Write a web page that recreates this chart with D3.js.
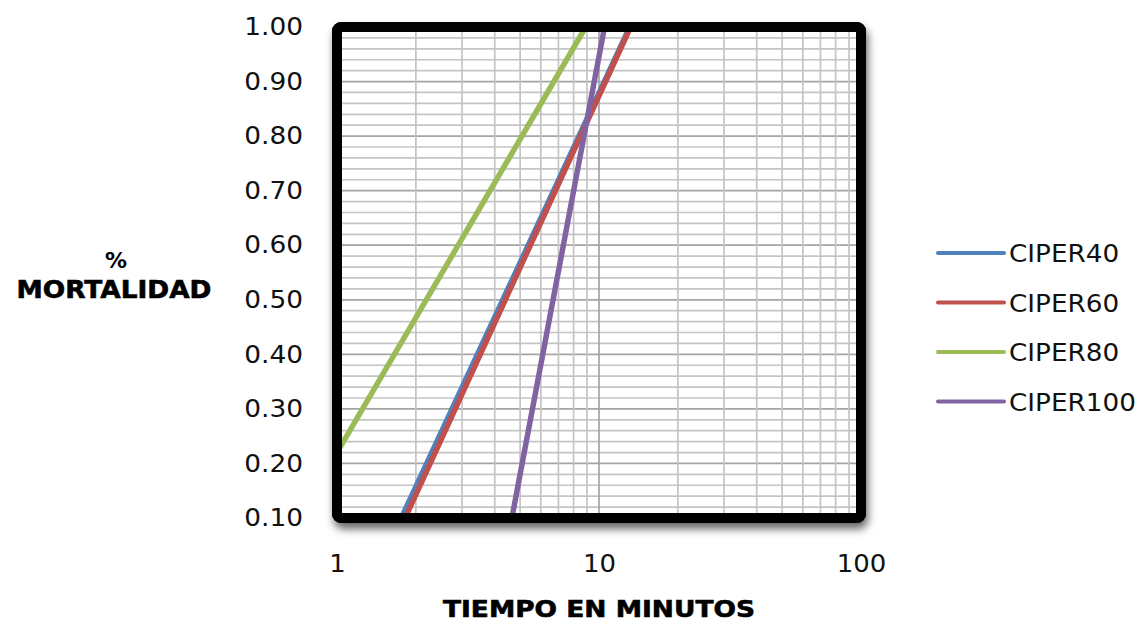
<!DOCTYPE html>
<html>
<head>
<meta charset="utf-8">
<script src="https://cdn.jsdelivr.net/npm/d3@7"></script>
<style>
  html, body { margin: 0; padding: 0; background: #fff; }
  svg { display: block; font-family: "DejaVu Sans", Verdana, sans-serif; }
</style>
</head>
<body>
<svg id="chart" width="1140" height="621"></svg>
<script>
// ---- Data ----
const seriesNames = ["CIPER40", "CIPER60", "CIPER80", "CIPER100"];
const seriesColors = ["#4F81BD", "#C0504D", "#9BBB59", "#8064A2"];
const tiempoCIPER40 = [1.76, 13.1];
const mortCIPER40   = [0.10, 1.00];
const tiempoCIPER60 = [1.82, 13.2];
const mortCIPER60   = [0.10, 1.00];
const tiempoCIPER80 = [1.00, 8.9];
const mortCIPER80   = [0.22, 1.00];
const tiempoCIPER100 = [4.65, 10.5];
const mortCIPER100   = [0.10, 1.00];
const xTickLabels = [1, 10, 100];
const yTickLabels = [0.10, 0.20, 0.30, 0.40, 0.50, 0.60, 0.70, 0.80, 0.90, 1.00];

const seriesX = [tiempoCIPER40, tiempoCIPER60, tiempoCIPER80, tiempoCIPER100];
const seriesY = [mortCIPER40, mortCIPER60, mortCIPER80, mortCIPER100];
const series = seriesNames.map((name, i) => ({
  name, color: seriesColors[i],
  points: seriesX[i].map((t, j) => ({ t, m: seriesY[i][j] }))
}));

// ---- Layout ----
const svg = d3.select("#chart");
const L = 337, R = 861, T = 27, B = 518;
const x = d3.scaleLog().domain([1, 100]).range([L, R]);
const y = d3.scaleLinear().domain([0.10, 1.00]).range([B, T]);

const defs = svg.append("defs");
const f = defs.append("filter").attr("id", "shadow")
  .attr("x", "-5%").attr("y", "-5%").attr("width", "115%").attr("height", "120%");
f.append("feDropShadow").attr("dx", 2).attr("dy", 6).attr("stdDeviation", 4)
  .attr("flood-color", "#000").attr("flood-opacity", 0.6);
defs.append("clipPath").attr("id", "plotclip").append("rect")
  .attr("x", L).attr("y", T).attr("width", R - L).attr("height", B - T);

// shadow/background box
svg.append("rect").attr("x", L).attr("y", T).attr("width", R - L).attr("height", B - T)
  .attr("rx", 4).attr("fill", "#fff").attr("stroke", "#000").attr("stroke-width", 10)
  .attr("filter", "url(#shadow)");

// grid
const grid = svg.append("g").attr("clip-path", "url(#plotclip)");
const hVals = d3.range(10, 101, 2).map(v => v / 100);
grid.selectAll("line.h").data(hVals).join("line")
  .attr("x1", L).attr("x2", R)
  .attr("y1", d => y(d)).attr("y2", d => y(d))
  .attr("stroke", d => (Math.round(d * 100) % 10 === 0) ? "#a4a4a4" : "#c4c4c4")
  .attr("stroke-width", 1.7);
const vVals = x.ticks();
grid.selectAll("line.v").data(vVals).join("line")
  .attr("y1", T).attr("y2", B)
  .attr("x1", d => x(d)).attr("x2", d => x(d))
  .attr("stroke", d => ([1, 10, 100].includes(d)) ? "#a4a4a4" : "#c4c4c4")
  .attr("stroke-width", 1.7);

// series lines
const line = d3.line().x(d => x(d.t)).y(d => y(d.m));
svg.append("g").selectAll("path").data(series).join("path")
  .attr("d", d => line(d.points))
  .attr("fill", "none")
  .attr("stroke", d => d.color)
  .attr("stroke-width", 5.5)
  .attr("stroke-linecap", "round");

// border on top
svg.append("rect").attr("x", L).attr("y", T).attr("width", R - L).attr("height", B - T)
  .attr("rx", 4).attr("fill", "none").attr("stroke", "#000").attr("stroke-width", 10);

// stretch helper
function stretch(sel, factor) {
  sel.each(function () {
    const len = this.getComputedTextLength();
    d3.select(this).attr("textLength", len * factor).attr("lengthAdjust", "spacingAndGlyphs");
  });
}

// Y axis
const yAxis = svg.append("g").attr("transform", `translate(${L},0)`)
  .call(d3.axisLeft(y).tickValues(yTickLabels).tickFormat(d3.format(".2f")).tickSize(0).tickPadding(34));
yAxis.select(".domain").remove();
yAxis.selectAll("text").attr("font-size", 24).attr("fill", "#111")
  .attr("font-family", "DejaVu Sans");
stretch(yAxis.selectAll("text"), 1.1);

// X axis
const xAxis = svg.append("g").attr("transform", `translate(0,${B})`)
  .call(d3.axisBottom(x).tickValues(xTickLabels).tickFormat(d3.format("d")).tickSize(0).tickPadding(37));
xAxis.select(".domain").remove();
xAxis.selectAll("text").attr("font-size", 24).attr("fill", "#111")
  .attr("font-family", "DejaVu Sans");
stretch(xAxis.selectAll("text"), 1.08);

// Axis titles
svg.append("text").attr("x", 116).attr("y", 268).attr("text-anchor", "middle")
  .attr("font-weight", "bold").attr("font-size", 22).text("%");
svg.append("text").attr("x", 114).attr("y", 298).attr("text-anchor", "middle")
  .attr("font-weight", "bold").attr("font-size", 24).attr("stroke", "#000").attr("stroke-width", 0.6)
  .attr("textLength", 195).attr("lengthAdjust", "spacingAndGlyphs").text("MORTALIDAD");
svg.append("text").attr("x", 599).attr("y", 617).attr("text-anchor", "middle")
  .attr("font-weight", "bold").attr("font-size", 23).attr("stroke", "#000").attr("stroke-width", 0.6)
  .attr("textLength", 312).attr("lengthAdjust", "spacingAndGlyphs").text("TIEMPO EN MINUTOS");

// Legend
const leg = svg.append("g").selectAll("g").data(series).join("g")
  .attr("transform", (d, i) => `translate(0,${253 + i * 49.5})`);
leg.append("line").attr("x1", 938).attr("x2", 1004).attr("y1", 0).attr("y2", 0)
  .attr("stroke", d => d.color).attr("stroke-width", 4).attr("stroke-linecap", "round");
const legText = leg.append("text").attr("x", 1009).attr("y", 9)
  .attr("font-size", 25).attr("fill", "#111").text(d => d.name);
stretch(legText, 1.05);
</script>
</body>
</html>
